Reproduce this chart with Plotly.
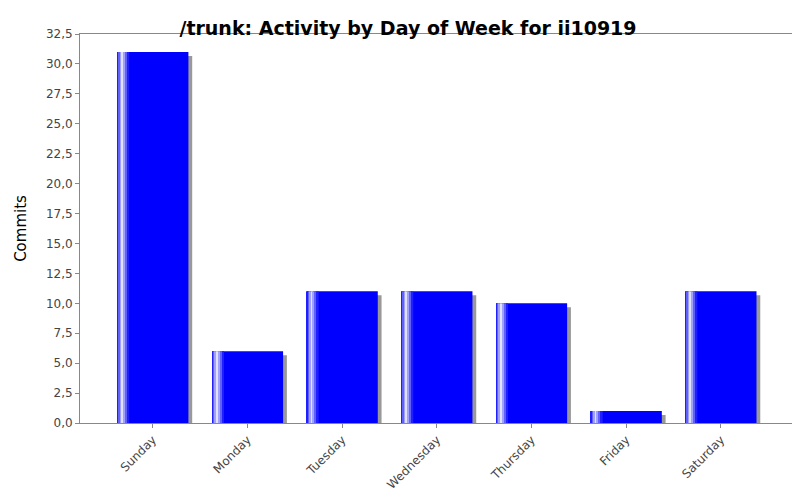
import plotly.graph_objects as go

days = ["Sunday", "Monday", "Tuesday", "Wednesday", "Thursday", "Friday", "Saturday"]
commits = [31, 6, 11, 11, 10, 1, 11]

fig = go.Figure()

# drop shadow
fig.add_trace(go.Bar(x=days, y=commits, base=-0.33, offset=-0.335, width=0.75,
                     marker=dict(color="#999999", line_width=0), hoverinfo="skip"))
# main bar
fig.add_trace(go.Bar(x=days, y=commits, offset=-0.375, width=0.75,
                     marker=dict(color="#0000ff", line_width=0)))
# gradient highlight strips
strips = [("#2020ff", -0.375, 0.015), ("#6060ff", -0.36, 0.015), ("#a0a0ff", -0.345, 0.015),
          ("#e0e0ff", -0.33, 0.02), ("#a0a0ff", -0.31, 0.02), ("#6060ff", -0.29, 0.02),
          ("#2020ff", -0.27, 0.02)]
for c, off, w in strips:
    fig.add_trace(go.Bar(x=days, y=commits, offset=off, width=w,
                         marker=dict(color=c, line_width=0), hoverinfo="skip"))

fig.update_layout(
    width=800, height=500, barmode="overlay", showlegend=False,
    plot_bgcolor="white", paper_bgcolor="white", separators=",.",
    margin=dict(l=68, r=16, t=26, b=85),
    font=dict(family="DejaVu Sans", size=12, color="#444444"),
    title=dict(text="<b>/trunk: Activity by Day of Week for ii10919</b>", x=0.5, y=0.972,
               xanchor="center", font=dict(size=19, color="black")),
)
fig.update_xaxes(showline=True, linecolor="#888888", mirror=True, ticks="outside",
                 tickcolor="#888888", ticklen=4, tickangle=-45, range=[-0.77, 6.75])
fig.update_yaxes(range=[0, 32.5], dtick=2.5, tickformat=".1f", showgrid=False,
                 showline=True, linecolor="#888888", mirror=True, ticks="outside",
                 tickcolor="#888888", ticklen=4, title=dict(text="Commits", font=dict(size=15, color="black")))

fig.write_html("out.html")
